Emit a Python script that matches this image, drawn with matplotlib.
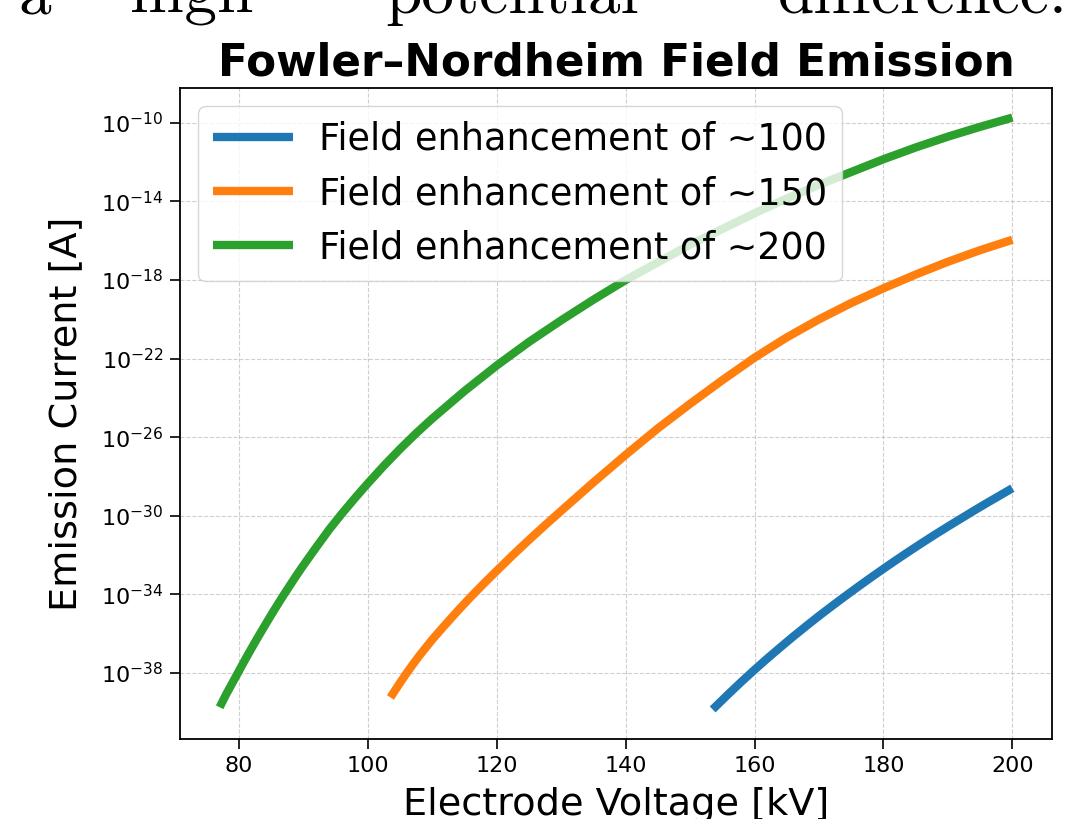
import matplotlib
matplotlib.use("Agg")
import matplotlib.pyplot as plt
from matplotlib.ticker import NullLocator

# values (kV, log10 of current in A)
v_100 = [153.5, 154, 156, 158, 160, 162, 164, 166, 168, 170, 172, 174, 176, 178,
         180, 182, 184, 186, 188, 190, 192, 194, 196, 198, 200]
e_100 = [-39.86, -39.7, -39.06, -38.44, -37.84, -37.26, -36.7, -36.15, -35.62, -35.1,
         -34.6, -34.11, -33.63, -33.16, -32.7, -32.25, -31.81, -31.38, -30.96, -30.55,
         -30.15, -29.75, -29.36, -28.98, -28.6]

v_150 = [103.5, 104, 105, 106, 107, 108, 110, 112, 114, 116, 118, 120, 122.5, 125,
         127.5, 130, 135, 140, 145, 150, 155, 160, 165, 170, 175, 180, 185, 190, 195, 200]
e_150 = [-39.25, -39.0, -38.5, -38.02, -37.56, -37.12, -36.3, -35.55, -34.82, -34.12,
         -33.45, -32.8, -32.0, -31.23, -30.48, -29.75, -28.3, -26.9, -25.55, -24.3,
         -23.1, -21.95, -20.92, -20.0, -19.17, -18.42, -17.72, -17.07, -16.48, -15.95]

v_200 = [77, 78, 79, 80, 81, 82, 83, 84, 85, 86, 87, 88, 89, 90, 92, 94, 96, 98, 100,
         102.5, 105, 107.5, 110, 115, 120, 125, 130, 135, 140, 145, 150, 155, 160, 165,
         170, 175, 180, 185, 190, 195, 200]
e_200 = [-39.75, -39.1, -38.5, -37.9, -37.3, -36.72, -36.15, -35.6, -35.05, -34.52,
         -34.0, -33.5, -33.0, -32.52, -31.6, -30.7, -29.88, -29.1, -28.35,
         -27.45, -26.6, -25.8, -25.05, -23.65, -22.35, -21.15, -20.05, -19.0, -18.0,
         -17.1, -16.2, -15.4, -14.6, -13.85, -13.15, -12.5, -11.85, -11.25, -10.7,
         -10.2, -9.73]

labels = ["Field enhancement of ~100", "Field enhancement of ~150", "Field enhancement of ~200"]
colors = ["#1f77b4", "#ff7f0e", "#2ca02c"]
ytick_exp = [-38, -34, -30, -26, -22, -18, -14, -10]
xticks = [80, 100, 120, 140, 160, 180, 200]

# words of the slide text above the chart, cut off at the top
words = ["a", "high", "potential", "difference."]
word_x = [18, 130, 385, 778]

fig = plt.figure(figsize=(10.65, 8.19), dpi=100)
ax = fig.add_axes([180 / 1065, 1 - 739 / 819, 872 / 1065, 651 / 819])

series = [(v_100, e_100), (v_150, e_150), (v_200, e_200)]
for (v, e), lab, c in zip(series, labels, colors):
    ax.plot(v, [10.0 ** x for x in e], color=c, lw=6, label=lab, solid_capstyle="butt")

ax.set_yscale("log")
ax.set_yticks([10.0 ** x for x in ytick_exp])
ax.yaxis.set_minor_locator(NullLocator())
ax.set_xticks(xticks)
ax.tick_params(labelsize=16, length=7, width=1.2, pad=5)
for s in ax.spines.values():
    s.set_linewidth(1.3)

ax.grid(True, linestyle="--", alpha=0.6)
ax.set_xlabel("Electrode Voltage [kV]", fontsize=27.5, labelpad=8)
ax.set_ylabel("Emission Current [A]", fontsize=27.5, labelpad=12)
ax.set_title("Fowler\u2013Nordheim Field Emission", fontsize=31.5, fontweight="bold", pad=9)
ax.legend(loc="upper left", fontsize=26.3, handlelength=2.2, labelspacing=0.47,
          handletextpad=0.7, borderaxespad=0.5)

for w, x in zip(words, word_x):
    fig.text(x / 1065, 1 - 13 / 819, w, fontsize=47, family="cmr10", ha="left",
             va="baseline")

fig.savefig("out.png", dpi=100)
